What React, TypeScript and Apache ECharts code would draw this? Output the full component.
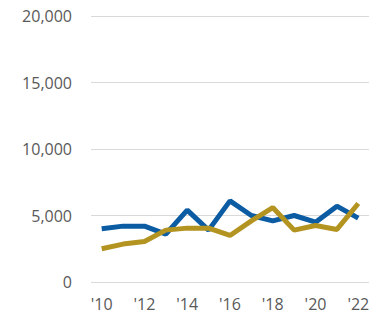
import React, { useEffect, useRef } from "react";
import * as echarts from "echarts";

const years = ["'10", "'11", "'12", "'13", "'14", "'15", "'16", "'17", "'18", "'19", "'20", "'21", "'22"];
const blueValues = [4000, 4200, 4200, 3600, 5400, 3900, 6100, 5000, 4600, 5000, 4500, 5700, 4800];
const goldValues = [2500, 2850, 3050, 3900, 4050, 4050, 3500, 4600, 5600, 3900, 4250, 3950, 5900];
const yTicks = [0, 5000, 10000, 15000, 20000];

export default function App() {
  const ref = useRef<HTMLDivElement>(null);
  useEffect(() => {
    if (!ref.current) return;
    const chart = echarts.init(ref.current, null, { renderer: "svg" });
    chart.setOption({
      animation: false,
      grid: { left: 91, right: -2, top: 16, bottom: 35, containLabel: false },
      xAxis: {
        type: "category",
        data: years,
        boundaryGap: true,
        axisLine: { show: false },
        axisTick: { show: false },
        axisLabel: {
          interval: 1,
          color: "#595959",
          fontSize: 16,
          fontFamily: "Open Sans",
          margin: 14,
        },
      },
      yAxis: {
        type: "value",
        min: yTicks[0],
        max: yTicks[yTicks.length - 1],
        interval: 5000,
        axisLine: { show: false },
        axisTick: { show: false },
        splitLine: { lineStyle: { color: "#D9D9D9", width: 1 } },
        axisLabel: {
          color: "#595959",
          fontSize: 16,
          fontFamily: "Open Sans",
          margin: 19,
          formatter: (v: number) => v.toLocaleString("en-US"),
        },
      },
      series: [
        {
          type: "line",
          data: blueValues,
          symbol: "none",
          lineStyle: { color: "#0B5CA3", width: 5 },
          itemStyle: { color: "#0B5CA3" },
        },
        {
          type: "line",
          data: goldValues,
          symbol: "none",
          lineStyle: { color: "#B39421", width: 5 },
          itemStyle: { color: "#B39421" },
        },
      ],
    });
    return () => chart.dispose();
  }, []);
  return <div ref={ref} style={{ width: 372, height: 317, position: "absolute", left: 0, top: 0 }} />;
}
